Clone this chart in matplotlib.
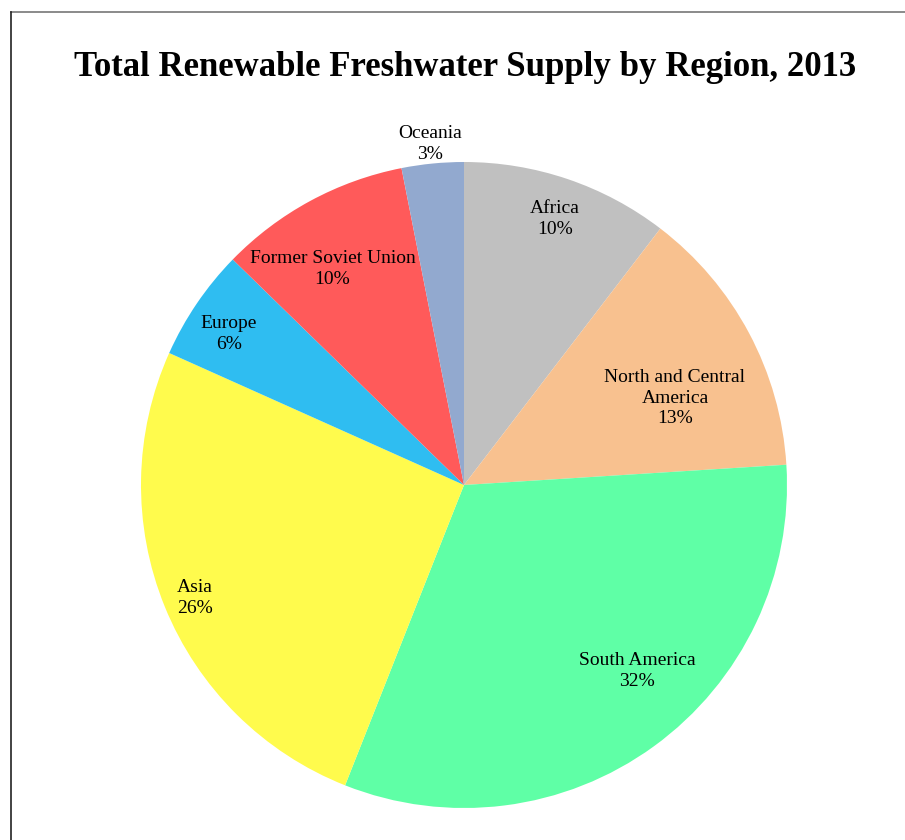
import numpy as np
import matplotlib.pyplot as plt
from matplotlib.lines import Line2D

regions = ["Africa", "North and Central\nAmerica", "South America", "Asia",
           "Europe", "Former Soviet Union", "Oceania"]
shares = [10.4, 13.6, 32.0, 25.7, 5.6, 9.6, 3.1]
pct_labels = ["10%", "13%", "32%", "26%", "6%", "10%", "3%"]
colors = ["#c0c0c0", "#f8c18f", "#5fffa6", "#fffb4d", "#2fbdf1", "#ff5a5a", "#92a9cf"]

# label placement (fraction of radius, angular shift in degrees)
label_r = [0.88, 0.71, 0.78, 0.90, 0.87, 0.79, 1.07]
label_shift = [0, 5, -7.5, 0, -1, -2.6, 0]

plt.rcParams["font.family"] = ["Liberation Serif", "DejaVu Serif"]

W, H = 905, 840
fig = plt.figure(figsize=(W / 100, H / 100), dpi=100)

cx, cy, R = 464, 485, 323
ax = fig.add_axes([(cx - R) / W, 1 - (cy + R) / H, 2 * R / W, 2 * R / H])
wedges, _ = ax.pie(shares, colors=colors, startangle=90, counterclock=False,
                   radius=1, wedgeprops=dict(linewidth=0))
ax.set_xlim(-1, 1)
ax.set_ylim(-1, 1)
ax.set_aspect("equal")
ax.axis("off")

for w, name, pct, r, sh in zip(wedges, regions, pct_labels, label_r, label_shift):
    mid = np.deg2rad((w.theta1 + w.theta2) / 2 - sh)
    ax.annotate(f"{name}\n{pct}", (r * np.cos(mid), r * np.sin(mid)),
                xytext=(0, -3), textcoords="offset pixels",
                ha="center", va="center", fontsize=14, linespacing=1.3,
                annotation_clip=False)

fig.text(465 / W, 1 - 68 / H, "Total Renewable Freshwater Supply by Region, 2013",
         ha="center", va="center", fontsize=25, fontweight="bold")

# frame lines
fig.add_artist(Line2D([11 / W, 1], [1 - 12 / H, 1 - 12 / H], color="#777777", lw=1.2))
fig.add_artist(Line2D([11 / W, 11 / W], [0, 1 - 12 / H], color="#222222", lw=1.2))

fig.savefig("out.png", dpi=100)
